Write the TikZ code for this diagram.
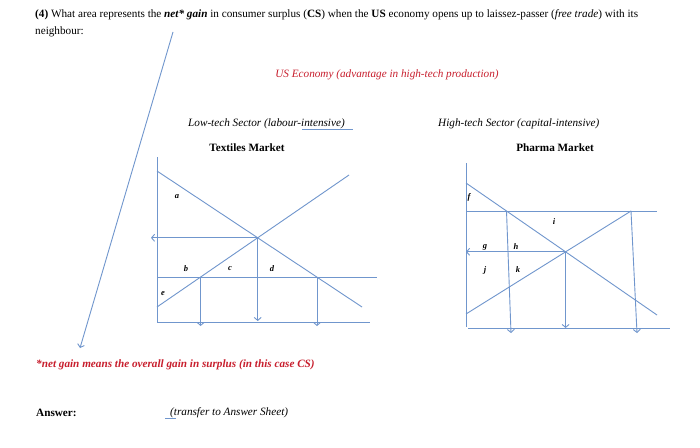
\documentclass[tikz,border=0pt]{standalone}
\usepackage{fontspec}
\setmainfont{Liberation Serif}
\usetikzlibrary{arrows.meta}
\definecolor{lineblue}{RGB}{112,150,205}
\definecolor{redtext}{RGB}{200,30,45}
\begin{document}
\begin{tikzpicture}[x=1pt,y=-1pt,
  ln/.style={draw=lineblue, line width=0.9pt},
  arr/.style={ln,-{Straight Barb[length=3pt,width=7pt]}},
  lbl/.style={font=\fontsize{8.5}{9}\selectfont\bfseries\itshape, inner sep=0pt},
  txt/.style={font=\fontsize{11.2}{13}\selectfont, inner sep=0pt, anchor=west},
  ctxt/.style={font=\fontsize{11.2}{13}\selectfont, inner sep=0pt}]
\useasboundingbox (0,0) rectangle (700,447);
\fill[white] (0,0) rectangle (700,447);

% heading text
\node[txt] (q1) at (35,15) {\textbf{(4)} What area represents the \textbf{\textit{net* gain}} in consumer surplus (\textbf{CS}) when the \textbf{US} economy opens up to laissez-passer (\textit{free trade}) with its};
\node[txt] (q2) at (35,32) {neighbour:};
\node[ctxt, text=redtext, font=\fontsize{11.2}{13}\selectfont\itshape] (us) at (387,75) {US Economy (advantage in high-tech production)};

% long arrow
\coordinate (la1) at (173,32);
\coordinate (la2) at (80,348);
\draw[arr] (la1) -- (la2);

% sector titles
\node[txt, font=\fontsize{11.2}{13}\selectfont\itshape] (low) at (188,124) {Low-tech Sector (labour-intensive)};
\coordinate (ul1) at (302,129.5); \coordinate (ul2) at (353,129.5);
\draw[draw=lineblue, line width=1.1pt] (ul1) -- (ul2);
\node[ctxt, font=\fontsize{11.2}{13}\selectfont\bfseries] (tex) at (247,148) {Textiles Market};
\node[txt, font=\fontsize{11.2}{13}\selectfont\itshape] (high) at (438,124) {High-tech Sector (capital-intensive)};
\node[ctxt, font=\fontsize{11.2}{13}\selectfont\bfseries] (pha) at (555,148) {Pharma Market};

% ---------- left diagram ----------
\coordinate (Ltop) at (157,157);
\coordinate (Lo) at (157,322);
\coordinate (Lx) at (370,322);
\draw[ln] (Ltop) -- (Lo) -- (Lx);
\coordinate (LD1) at (157,171); \coordinate (LD2) at (362,307);
\coordinate (LS1) at (157,307); \coordinate (LS2) at (349,175);
\draw[ln] (LD1) -- (LD2);
\draw[ln] (LS1) -- (LS2);
\coordinate (LE) at (257.7,237.8);
\coordinate (LEl) at (151,237.8);
\coordinate (LEd) at (257.7,321);
\draw[arr] (LE) -- (LEl);
\draw[arr] (LE) -- (LEd);
\coordinate (LW1) at (157,277); \coordinate (LW2) at (377,277);
\draw[ln] (LW1) -- (LW2);
\coordinate (LWs) at (200.6,277); \coordinate (LWsd) at (200.6,326);
\coordinate (LWd) at (317,277); \coordinate (LWdd) at (317,326);
\draw[arr] (LWs) -- (LWsd);
\draw[arr] (LWd) -- (LWdd);
\node[lbl] (la) at (177,197) {a};
\node[lbl] (lb) at (186,269) {b};
\node[lbl] (lc) at (230,269) {c};
\node[lbl] (ld) at (272,269) {d};
\node[lbl] (le) at (163,294) {e};

% ---------- right diagram ----------
\coordinate (Rtop) at (466,163);
\coordinate (Ro) at (466,327);
\draw[ln] (Rtop) -- (Ro);
\coordinate (Rx1) at (468,328); \coordinate (Rx2) at (670,328);
\draw[ln] (Rx1) -- (Rx2);
\coordinate (RD1) at (466,183); \coordinate (RD2) at (657,315);
\coordinate (RS1) at (466,314); \coordinate (RS2) at (631,211);
\draw[ln] (RD1) -- (RD2);
\draw[ln] (RS1) -- (RS2);
\coordinate (RW1) at (466,211); \coordinate (RW2) at (657,211);
\draw[ln] (RW1) -- (RW2);
\coordinate (RE) at (565.6,251.8);
\coordinate (REl) at (466,251.8);
\coordinate (REd) at (565.6,328);
\draw[arr] (RE) -- (REl);
\draw[arr] (RE) -- (REd);
\coordinate (RWd) at (506.5,211); \coordinate (RWdd) at (511,333);
\draw[arr] (RWd) -- (RWdd);
\coordinate (RWdd2) at (637,333);
\draw[arr] (RS2) -- (RWdd2);
\node[lbl] (rf) at (469,197) {f};
\node[lbl] (ri) at (554,222) {i};
\node[lbl] (rg) at (485,247) {g};
\node[lbl] (rh) at (516,247) {h};
\node[lbl] (rj) at (485,270) {j};
\node[lbl] (rk) at (518,270) {k};

% ---------- bottom ----------
\node[txt, text=redtext, font=\fontsize{11.2}{13}\selectfont\bfseries\itshape] (note) at (36,365) {*net gain means the overall gain in surplus (in this case CS)};
\node[txt, font=\fontsize{11.2}{13}\selectfont\bfseries] (ans) at (36,413) {Answer:};
\node[txt, font=\fontsize{11.2}{13}\selectfont\itshape] (tr) at (170,413) {(transfer to Answer Sheet)};
\coordinate (us1) at (165,418.5); \coordinate (us2) at (176,418.5);
\draw[draw=lineblue, line width=1.1pt] (us1) -- (us2);
\end{tikzpicture}
\end{document}
